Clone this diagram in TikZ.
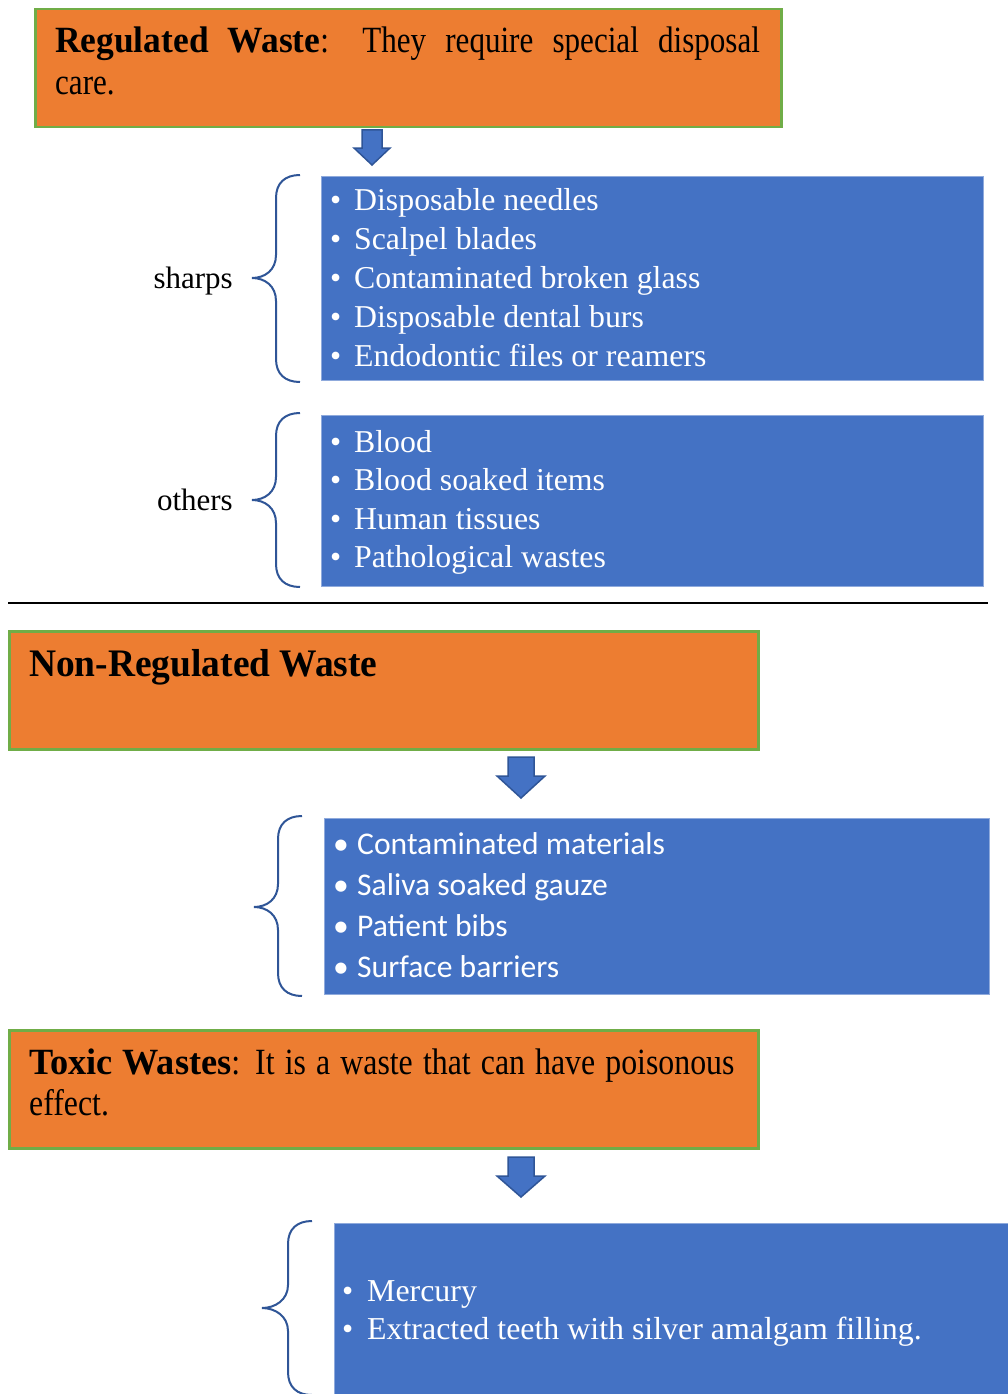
\documentclass[tikz,border=0pt]{standalone}
\usepackage{fontspec}
\setmainfont{Liberation Serif}
\newfontfamily\calibrifont{Carlito}
\usepackage{graphicx}
\definecolor{boxorange}{HTML}{ED7D31}
\definecolor{boxgreen}{HTML}{70AD47}
\definecolor{boxblue}{HTML}{4472C4}
\definecolor{darkblue}{HTML}{2F5597}
\definecolor{blueedge}{HTML}{8FAADC}
\tikzset{
  orangebox/.style={draw=boxgreen, line width=2.5pt, fill=boxorange, anchor=north west, inner sep=0pt},
  bluebox/.style={draw=blueedge, line width=1pt, fill=boxblue, anchor=north west, inner sep=0pt},
  bracestyle/.style={draw=darkblue, line width=2pt},
  blockarrow/.style={fill=boxblue, draw=darkblue, line width=1.5pt, line join=miter},
  listtext/.style={anchor=base west, text=white, inner sep=0pt},
  sidelabel/.style={anchor=base east, inner sep=0pt, font=\fontsize{31}{37}\selectfont},
  headtext/.style={anchor=base west, inner sep=0pt},
}
\newcommand{\bul}[1]{\makebox[#1][l]{\textbullet}}
\newcommand{\wideb}[1]{\scalebox{1.14}[1]{\textbf{#1}}}
\begin{document}
\begin{tikzpicture}[x=1pt,y=-1pt]
\useasboundingbox (0,0) rectangle (1008,1394);
\fill[white] (0,0) rectangle (1008,1394);

% ---------- Regulated waste ----------
\node[orangebox, minimum width=746pt, minimum height=118pt] (regbox) at (34,8) {};
\node[headtext] (regtext) at (55,53) {\scalebox{0.84}[1]{\parbox[t]{839pt}{\fontsize{37}{42}\selectfont\tolerance=10000\hbadness=10000
  \wideb{Regulated} \wideb{Waste}: They require special disposal\linebreak care.}}};

\draw[blockarrow] (362,130) -- (382,130) -- (382,148) -- (390,148) -- (372,165) -- (354,148) -- (362,148) -- cycle;

% sharps
\draw[bracestyle] (300,175) .. controls (285,175) and (276,183) .. (276,198) -- (276,255)
  .. controls (276,270) and (265,278) .. (252,278)
  .. controls (265,278) and (276,286) .. (276,301) -- (276,359)
  .. controls (276,374) and (285,382) .. (300,382);
\node[sidelabel] (sharps) at (233,288) {sharps};
\node[bluebox, minimum width=662pt, minimum height=204pt] (sharpbox) at (321,176) {};
\node[listtext] (sharplist) at (330,210) {\parbox[t]{640pt}{\fontsize{31.8}{39}\selectfont\raggedright
  \bul{24pt}Disposable needles\par
  \bul{24pt}Scalpel blades\par
  \bul{24pt}Contaminated broken glass\par
  \bul{24pt}Disposable dental burs\par
  \bul{24pt}Endodontic files or reamers}};

% others
\draw[bracestyle] (300,413) .. controls (285,413) and (276,421) .. (276,436) -- (276,477)
  .. controls (276,492) and (265,500) .. (252,500)
  .. controls (265,500) and (276,508) .. (276,523) -- (276,564)
  .. controls (276,579) and (285,587) .. (300,587);
\node[sidelabel] (others) at (233,510) {others};
\node[bluebox, minimum width=662pt, minimum height=171pt] (otherbox) at (321,415) {};
\node[listtext] (otherlist) at (330,452) {\parbox[t]{640pt}{\fontsize{31.8}{38.5}\selectfont\raggedright
  \bul{24pt}Blood\par
  \bul{24pt}Blood soaked items\par
  \bul{24pt}Human tissues\par
  \bul{24pt}Pathological wastes}};

% separator
\coordinate (sepL) at (8,603);
\coordinate (sepR) at (988,603);
\draw[black, line width=2pt] (sepL) -- (sepR);

% ---------- Non-regulated waste ----------
\node[orangebox, minimum width=749pt, minimum height=118pt] (nonbox) at (8,630) {};
\node[headtext] (nontext) at (29,676) {\scalebox{0.96}[1]{\fontsize{39}{45}\selectfont\bfseries Non-Regulated Waste}};

\draw[blockarrow] (508,757) -- (534,757) -- (534,776) -- (545,776) -- (521,798) -- (497,776) -- (508,776) -- cycle;

\draw[bracestyle] (302,816) .. controls (287,816) and (278,824) .. (278,839) -- (278,884)
  .. controls (278,899) and (267,907) .. (254,907)
  .. controls (267,907) and (278,915) .. (278,930) -- (278,973)
  .. controls (278,988) and (287,996) .. (302,996);
\node[bluebox, minimum width=665pt, minimum height=176pt] (nonlistbox) at (324,818) {};
\node[listtext] (nonlist) at (333,854) {\parbox[t]{640pt}{\calibrifont\fontsize{31.6}{41}\selectfont\raggedright
  \bul{24pt}Contaminated materials\par
  \bul{24pt}Saliva soaked gauze\par
  \bul{24pt}Patient bibs\par
  \bul{24pt}Surface barriers}};

% ---------- Toxic wastes ----------
\node[orangebox, minimum width=749pt, minimum height=118pt] (toxbox) at (8,1029) {};
\node[headtext] (toxtext) at (29,1074) {\scalebox{0.86}[1]{\parbox[t]{820pt}{\fontsize{37}{41}\selectfont\tolerance=10000\hbadness=10000
  \wideb{Toxic} \wideb{Wastes}: It is a waste that can have poisonous\linebreak effect.}}};

\draw[blockarrow] (508,1157) -- (534,1157) -- (534,1176) -- (545,1176) -- (521,1197) -- (497,1176) -- (508,1176) -- cycle;

\draw[bracestyle] (312,1221) .. controls (297,1221) and (288,1229) .. (288,1244) -- (288,1285)
  .. controls (288,1300) and (275,1308) .. (262,1308)
  .. controls (275,1308) and (288,1316) .. (288,1331) -- (288,1372)
  .. controls (288,1387) and (297,1395) .. (312,1395);
\node[bluebox, minimum width=680pt, minimum height=180pt] (toxlistbox) at (334,1223) {};
\node[listtext] (toxlist) at (342,1301) {\parbox[t]{660pt}{\fontsize{31.9}{38.5}\selectfont\raggedright
  \bul{25pt}Mercury\par
  \bul{25pt}Extracted teeth with silver amalgam filling.}};
\end{tikzpicture}
\end{document}
